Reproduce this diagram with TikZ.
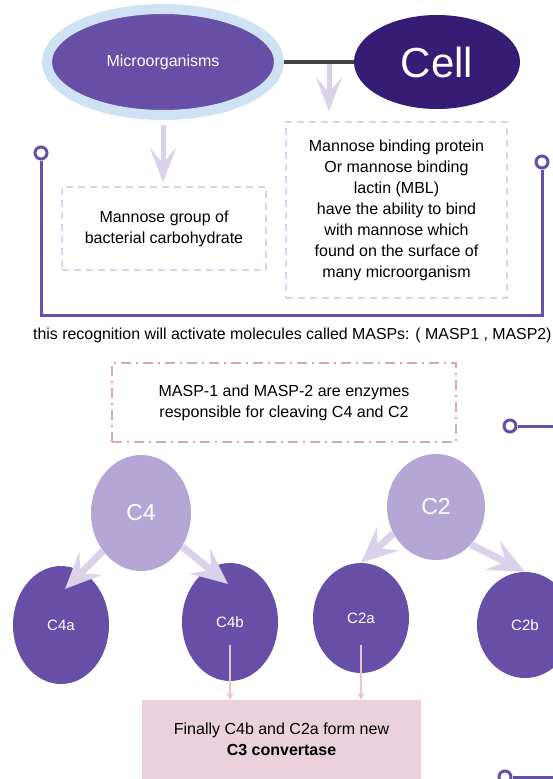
\documentclass[tikz,border=0pt]{standalone}
\usepackage{fontspec}
\setmainfont{Liberation Sans}
\usetikzlibrary{arrows.meta,shapes.geometric,calc}
\definecolor{purpleM}{HTML}{674EA7}
\definecolor{darkP}{HTML}{351C75}
\definecolor{lightP}{HTML}{B4A7D6}
\definecolor{lav}{HTML}{D9D2E9}
\definecolor{ringblue}{HTML}{CFE2F3}
\definecolor{pinkD}{HTML}{D5A6BD}
\definecolor{pinkF}{HTML}{EAD1DC}
\definecolor{pinkA}{HTML}{E6C6D4}
\definecolor{grayL}{HTML}{434343}
\begin{document}
\begin{tikzpicture}[x=1pt,y=-1pt,
  txt/.style={font=\fontsize{16}{21}\selectfont, align=center, text=black},
  lavbox/.style={rectangle, draw=lav, line width=1.5pt, dash pattern=on 7pt off 5pt, inner sep=0pt},
  bigarrow/.style={draw=lav, line width=5pt, -{Stealth[length=34pt,width=26pt,inset=15pt]}},
  carrow/.style={draw=lav, line width=7pt, -{Stealth[length=36pt,width=32pt,inset=14pt]}},
  pinkarrow/.style={draw=pinkA, line width=1.5pt, -{Stealth[length=7pt,width=7pt,inset=2pt]}},
  ringdot/.style={circle, draw=purpleM, line width=3pt, fill=white, minimum size=12pt, inner sep=0pt},
  bracket/.style={draw=purpleM, line width=3pt},
  parentnode/.style={ellipse, fill=lightP, text=white, font=\fontsize{23}{23}\selectfont, inner sep=0pt},
  childnode/.style={ellipse, fill=purpleM, text=white, font=\fontsize{15}{15}\selectfont, inner sep=0pt}]
\useasboundingbox (0,0) rectangle (553,779);
\clip (0,0) rectangle (553,779);

% top
\node[ellipse, minimum width=232pt, minimum height=106pt, inner sep=0pt, draw=ringblue, line width=10pt, fill=purpleM, text=white, font=\fontsize{16}{16}\selectfont] (micro) at (163,62) {Microorganisms};
\node[ellipse, minimum width=166pt, minimum height=94pt, inner sep=0pt, fill=darkP, text=white, font=\fontsize{42}{42}\selectfont] (cell) at (437,62) {Cell};

\node[lavbox, minimum width=204pt, minimum height=83pt, txt] (mannose) at (164,228.5) {Mannose group of\\bacterial carbohydrate};
\node[lavbox, minimum width=221pt, minimum height=176pt, txt] (mbl) at (396.5,210) {Mannose binding protein\\Or mannose binding\\lactin (MBL)\\have the ability to bind\\with mannose which\\found on the surface of\\many microorganism};

\coordinate (jn) at (329,62);
\draw[bigarrow, shorten >=10pt] (jn) -- (jn |- mbl.north);
\draw[draw=grayL, line width=3.5pt] (micro) -- (cell);
\draw[bigarrow, shorten >=4pt] ([yshift=-5pt]micro.south) -- (micro.south |- mannose.north);

% bracket
\node[ringdot] (lcirc) at (41,153) {};
\node[ringdot] (rcirc) at (542,162) {};
\coordinate (bl) at (41,315);
\coordinate (br) at (542,315);
\draw[bracket] (lcirc) -- (bl) -- (br) -- (rcirc);

\node[txt, font=\fontsize{15.9}{20}\selectfont, anchor=west, inner sep=0pt] (recog) at (33,335) {this recognition will activate molecules called MASPs: ( MASP1 , MASP2)};

\node[rectangle, draw=pinkD, line width=1.5pt, dash pattern=on 10pt off 5pt on 2pt off 5pt, minimum width=344pt, minimum height=79pt, inner sep=0pt, txt] (masp) at (284,402.5) {MASP-1 and MASP-2 are enzymes\\responsible for cleaving C4 and C2};

\node[ringdot] (mcirc) at (510,426) {};
\coordinate (mend) at (560,426);
\draw[bracket] (mcirc) -- (mend);

% C nodes
\node[childnode, minimum width=96pt, minimum height=118pt] (c4a) at (61,625) {C4a};
\node[childnode, minimum width=96pt, minimum height=118pt] (c4b) at (230,622) {C4b};
\node[childnode, minimum width=96pt, minimum height=110pt] (c2a) at (361,618) {C2a};
\node[childnode, minimum width=96pt, minimum height=106pt] (c2b) at (525,625) {C2b};
\node[parentnode, minimum width=100pt, minimum height=116pt] (c4) at (141,513) {C4};
\node[parentnode, minimum width=98pt, minimum height=106pt] (c2) at (436,507) {C2};

\coordinate (t4a) at (65,589);
\coordinate (t4b) at (228,584);
\draw[carrow] (c4) -- (t4a);
\draw[carrow] (c4) -- (t4b);
\draw[carrow] (c2.212) -- (c2a.north);
\draw[carrow] (c2.313) -- (c2b.north);

% final box
\node[rectangle, fill=pinkF, minimum width=279pt, minimum height=79pt, inner sep=0pt, txt] (final) at (281.5,739.5) {Finally C4b and C2a form new\\\textbf{C3 convertase}};
\draw[pinkarrow] ([yshift=-23pt]c4b.center) -- (final.north -| c4b);
\draw[pinkarrow] ([yshift=-27pt]c2a.center) -- (final.north -| c2a);

\node[ringdot] (bcirc) at (505,777) {};
\coordinate (bend) at (560,777);
\draw[bracket] (bcirc) -- (bend);
\end{tikzpicture}
\end{document}
